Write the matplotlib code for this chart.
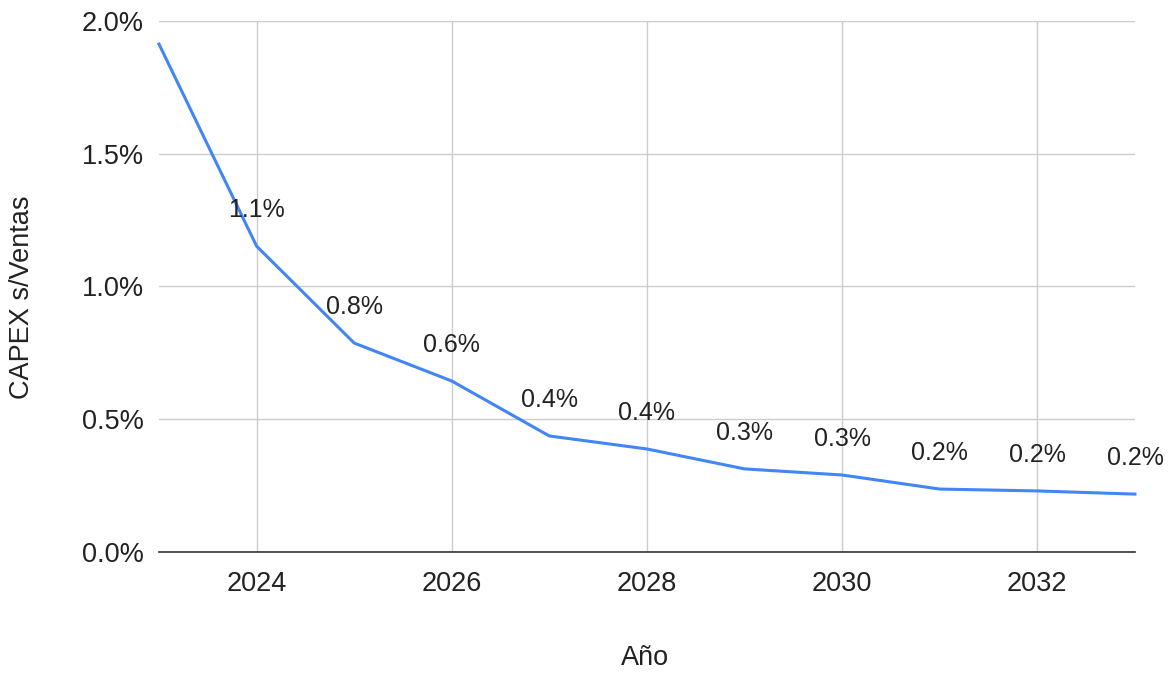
import matplotlib
matplotlib.use("Agg")
import matplotlib.pyplot as plt
from matplotlib.ticker import FuncFormatter

# data (CAPEX / ventas, %)
years = [2023, 2024, 2025, 2026, 2027, 2028, 2029, 2030, 2031, 2032, 2033]
capex = [1.913, 1.152, 0.787, 0.644, 0.437, 0.388, 0.313, 0.290, 0.237, 0.230, 0.218]
labels = [None, "1.1%", "0.8%", "0.6%", "0.4%", "0.4%", "0.3%", "0.3%", "0.2%", "0.2%", "0.2%"]
yticks = [0.0, 0.5, 1.0, 1.5, 2.0]
xticks = [2024, 2026, 2028, 2030, 2032]

plt.rcParams["font.family"] = ["Liberation Sans", "DejaVu Sans"]
TXT = "#222222"

fig = plt.figure(figsize=(11.76, 6.73), dpi=100)
ax = fig.add_axes([0.1352, 0.1798, 0.8299, 0.789])

ax.plot(years, capex, color="#4285F4", lw=2.2, solid_joinstyle="round", clip_on=False, zorder=3)
for x, y, t in zip(years, capex, labels):
    if t:
        ax.annotate(t, (x, y), xytext=(0, 36), textcoords="offset pixels",
                    ha="center", va="center", fontsize=18, color=TXT, zorder=4)

ax.set_xlim(2023, 2033)
ax.set_ylim(0, 2.0)
ax.set_xticks(xticks)
ax.set_yticks(yticks)
ax.yaxis.set_major_formatter(FuncFormatter(lambda v, _: f"{v:.1f}%"))
ax.grid(True, color="#cccccc", lw=1)
ax.set_axisbelow(True)
for s in ["top", "right", "left"]:
    ax.spines[s].set_visible(False)
ax.spines["bottom"].set_color("#333333")
ax.spines["bottom"].set_linewidth(1.2)
ax.tick_params(length=0, labelsize=19.5, colors=TXT)
ax.tick_params(axis="x", pad=14)
ax.tick_params(axis="y", pad=11)

fig.text(645 / 1176, 1 - 658 / 673, "Año", fontsize=19.5, color=TXT, ha="center", va="center")
fig.text(22 / 1176, 1 - 297 / 673, "CAPEX s/Ventas", fontsize=19.5, color=TXT,
         ha="center", va="center", rotation=90)

fig.savefig("out.png", dpi=100)
